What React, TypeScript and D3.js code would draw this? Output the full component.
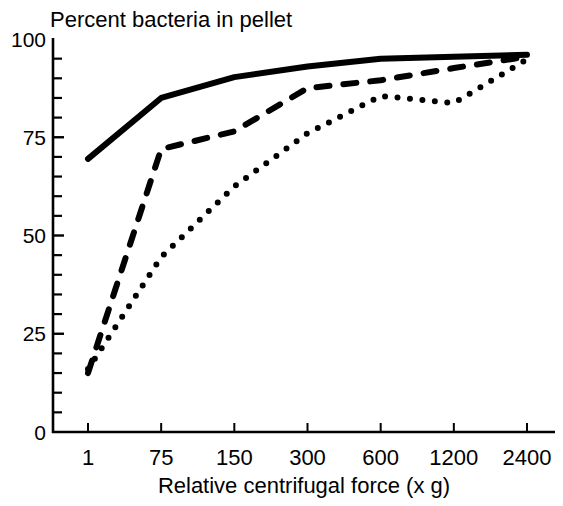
import React from "react";
import * as d3 from "d3";

const categories = ["1", "75", "150", "300", "600", "1200", "2400"];
const solidSeries = [69.5, 85, 90.3, 93, 95, 95.5, 96];
const dashedSeries = [15, 72, 76.5, 87.5, 89.5, 92.6, 95.5];
const dottedSeries = [16, 44.5, 62.5, 76, 85.5, 83.7, 94.8];
const yTicksMajor = [0, 25, 50, 75, 100];
const yTicksMinor = d3.range(5, 100, 5).filter((v) => v % 25 !== 0);

const W = 563;
const H = 506;

export default function App() {
  const x = d3.scalePoint<string>().domain(categories).range([88, 527]);
  const y = d3.scaleLinear().domain([0, 100]).range([432, 39]);
  const line = d3
    .line<number>()
    .x((_, i) => x(categories[i]) as number)
    .y((d) => y(d));
  const font = "'Liberation Sans', Arial, Helvetica, sans-serif";

  return (
    <svg
      width={W}
      height={H}
      style={{ position: "absolute", left: 0, top: 0, background: "#fff" }}
      fontFamily={font}
    >
      <rect x={0} y={0} width={W} height={H} fill="#fff" />
      {/* axes */}
      <line x1={53} x2={53} y1={38} y2={433} stroke="#000" strokeWidth={2.6} />
      <line x1={52} x2={555} y1={432} y2={432} stroke="#000" strokeWidth={2.6} />
      {yTicksMinor.map((v) => (
        <line key={"m" + v} x1={53} x2={62} y1={y(v)} y2={y(v)} stroke="#000" strokeWidth={2.2} />
      ))}
      {yTicksMajor.filter((v) => v > 0 && v < 100).map((v) => (
        <line key={"M" + v} x1={53} x2={64} y1={y(v)} y2={y(v)} stroke="#000" strokeWidth={2.4} />
      ))}
      {yTicksMajor.map((v) => (
        <text
          key={"t" + v}
          x={46}
          y={y(v)}
          dy="0.36em"
          textAnchor="end"
          fontSize={21}
          fill="#000"
        >
          {v}
        </text>
      ))}
      {categories.map((c) => (
        <g key={c}>
          <line
            x1={x(c)}
            x2={x(c)}
            y1={432}
            y2={423}
            stroke="#000"
            strokeWidth={2}
          />
          <text x={x(c)} y={465} textAnchor="middle" fontSize={22} fill="#000">
            {c}
          </text>
        </g>
      ))}
      <text x={304} y={493} textAnchor="middle" fontSize={22} fill="#000">
        Relative centrifugal force (x g)
      </text>
      <text x={50} y={27} fontSize={22} fill="#000">
        Percent bacteria in pellet
      </text>
      {/* series */}
      <path
        d={line(dottedSeries) || ""}
        fill="none"
        stroke="#000"
        strokeWidth={6}
        strokeLinecap="round"
        strokeDasharray="0 12.5"
      />
      <path
        d={line(dashedSeries) || ""}
        fill="none"
        stroke="#000"
        strokeWidth={6}
        strokeLinecap="round"
        strokeLinejoin="round"
        strokeDasharray="13 14"
      />
      <path
        d={line(solidSeries) || ""}
        fill="none"
        stroke="#000"
        strokeWidth={6}
        strokeLinecap="round"
        strokeLinejoin="round"
      />
    </svg>
  );
}
